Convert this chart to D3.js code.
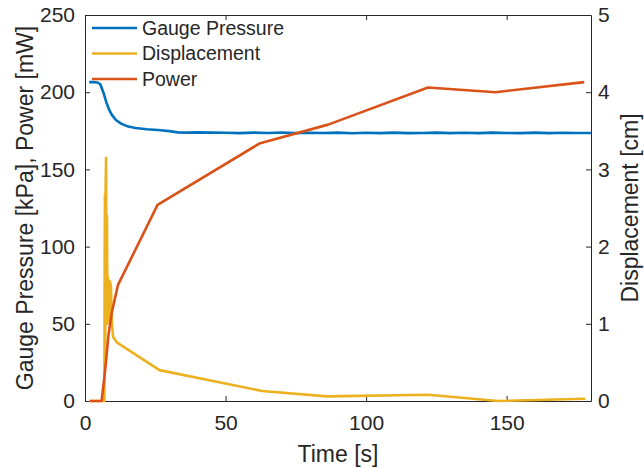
<!DOCTYPE html>
<html>
<head>
<meta charset="UTF-8">
<title>Pressure, displacement, power</title>
<script src="https://cdn.jsdelivr.net/npm/d3@7"></script>
<style>
body{margin:0;background:#fff;}
text{font-family:"Liberation Sans",Arial,Helvetica,sans-serif;fill:#262626;}
</style>
</head>
<body>
<script>
// data
var timePressure=[1.5,3,4.5,5.5,6.5,7.5,8.5,9.5,11,13,15,18,22,26,30,33,36,40,45,50,55,60,65,70,75,80,85,90,95,100,105,110,115,120,125,130,135,140,145,150,155,160,165,170,175,180];
var pressure=[206.5,206.5,206.3,205,200,194,189,185.5,182,179.5,178,176.8,176,175.5,174.8,174,173.8,174,173.8,173.7,173.5,173.8,173.6,173.9,173.5,173.7,173.6,173.8,173.4,173.7,173.5,173.8,173.5,173.6,173.8,173.5,173.7,173.5,173.8,173.6,173.5,173.8,173.5,173.7,173.6,173.6];
var timeDisp=[1.5,6.9,7.0,7.1,7.2,7.3,7.5,7.6,7.8,8.0,8.2,8.5,8.8,9.2,9.6,10.0,11.3,26.5,63,86,122,147,178];
var displacement=[0,0,1.9,2.67,0.6,2.66,3.15,1.2,2.4,1.0,1.6,1.05,1.55,1.5,1.0,0.83,0.76,0.4,0.13,0.06,0.08,0,0.03];
var timePower=[1.7,5.9,6.8,7.5,8.3,9.5,11.7,25.8,62.3,86.5,122,146,177.6];
var power=[0,0,14,26,42,57,75,127,167,179,203,200,206.5];
var xTicks=[0,50,100,150];
var yTicks=[0,50,100,150,200,250];
var y2Ticks=[0,1,2,3,4,5];
var names=["Gauge Pressure","Displacement","Power"];
var colors=["#0072BD","#EDB120","#D95319"];

var width=644,height=468;
var padL=85,padR=591,padT=15,padB=401;//plot box edges in px

var svg=d3.select("body").append("svg")
	.attr("width",width)
	.attr("height",height);

var x=d3.scaleLinear().domain([0,180]).range([padL,padR]);
var y=d3.scaleLinear().domain([0,250]).range([padB,padT]);
var y2=d3.scaleLinear().domain([0,5]).range([padB,padT]);

// axes, ticks pointing inward like matlab
function styleAxis(g){
	g.select(".domain").attr("stroke","#262626").attr("stroke-width",1);
	g.selectAll(".tick line").attr("stroke","#262626");
	g.selectAll(".tick text").attr("font-size","21px").attr("fill","#262626");
}
svg.append("g")
	.attr("transform","translate(0,"+padB+")")
	.call(d3.axisBottom(x).tickValues(xTicks).tickSizeInner(-5).tickSizeOuter(0).tickPadding(14))
	.call(styleAxis);
svg.append("g")
	.attr("transform","translate(0,"+padT+")")
	.call(d3.axisTop(x).tickValues(xTicks).tickSizeInner(-5).tickSizeOuter(0).tickFormat(""))
	.call(styleAxis);
svg.append("g")
	.attr("transform","translate("+padL+",0)")
	.call(d3.axisLeft(y).tickValues(yTicks).tickSizeInner(-5).tickSizeOuter(0).tickPadding(10))
	.call(styleAxis);
svg.append("g")
	.attr("transform","translate("+padR+",0)")
	.call(d3.axisRight(y2).tickValues(y2Ticks).tickFormat(d3.format("d")).tickSizeInner(-5).tickSizeOuter(0).tickPadding(7))
	.call(styleAxis);

// lines
var line=function(xs,ys,sc){
	return d3.line()
		.x(function(d,i){return x(xs[i]);})
		.y(function(d){return sc(d);})(ys);
};
var g=svg.append("g").attr("fill","none").attr("stroke-width",2.6).attr("stroke-linejoin","round");
g.append("path").attr("d",line(timePressure,pressure,y)).attr("stroke",colors[0]);
g.append("path").attr("d",line(timeDisp,displacement,y2)).attr("stroke",colors[1]);
g.append("path").attr("d",line(timePower,power,y)).attr("stroke",colors[2]);

// legend
var leg=svg.append("g").selectAll("g").data(names).enter().append("g")
	.attr("transform",function(d,i){return "translate(92,"+(28+i*25.5)+")";});
leg.append("line").attr("x1",0).attr("x2",45)
	.attr("stroke",function(d,i){return colors[i];}).attr("stroke-width",2.6);
leg.append("text").attr("x",50).attr("dy","0.35em").attr("font-size","19.5px").text(function(d){return d;});

// axis labels
svg.append("text").attr("x",(padL+padR)/2).attr("y",462).attr("text-anchor","middle")
	.attr("font-size","23px").text("Time [s]");
svg.append("text").attr("transform","translate(33,208) rotate(-90)").attr("text-anchor","middle")
	.attr("font-size","23px").text("Gauge Pressure [kPa], Power [mW]");
svg.append("text").attr("transform","translate(638,208) rotate(-90)").attr("text-anchor","middle")
	.attr("font-size","23px").text("Displacement [cm]");
</script>
</body>
</html>
